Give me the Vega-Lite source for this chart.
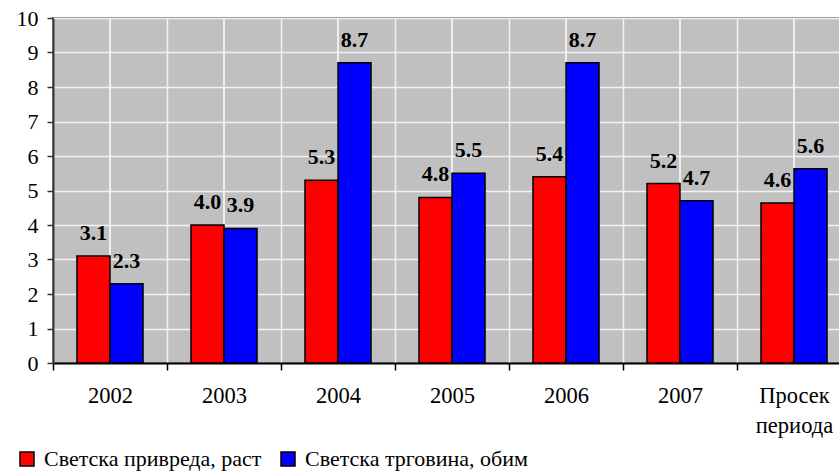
{
  "$schema": "https://vega.github.io/schema/vega-lite/v6.json",
  "width": 798,
  "height": 345,
  "autosize": {"type": "none"},
  "padding": {"left": 53, "top": 18, "right": 0, "bottom": 109},
  "background": "white",
  "config": {
    "view": {"fill": "#c0c0c0", "stroke": "#808080", "strokeWidth": 2},
    "font": "'Liberation Serif', serif",
    "axis": {"labelFont": "'Liberation Serif', serif"},
    "legend": {"labelFont": "'Liberation Serif', serif"},
    "text": {"font": "'Liberation Serif', serif"}
  },
  "data": {
    "values": [
      {"period": "2002", "series": "Светска привреда, раст", "value": 3.1},
      {"period": "2002", "series": "Светска трговина, обим", "value": 2.3},
      {"period": "2003", "series": "Светска привреда, раст", "value": 4.0},
      {"period": "2003", "series": "Светска трговина, обим", "value": 3.9},
      {"period": "2004", "series": "Светска привреда, раст", "value": 5.3},
      {"period": "2004", "series": "Светска трговина, обим", "value": 8.7},
      {"period": "2005", "series": "Светска привреда, раст", "value": 4.8},
      {"period": "2005", "series": "Светска трговина, обим", "value": 5.5},
      {"period": "2006", "series": "Светска привреда, раст", "value": 5.4},
      {"period": "2006", "series": "Светска трговина, обим", "value": 8.7},
      {"period": "2007", "series": "Светска привреда, раст", "value": 5.2},
      {"period": "2007", "series": "Светска трговина, обим", "value": 4.7},
      {"period": "Просек периода", "series": "Светска привреда, раст", "value": 4.64},
      {"period": "Просек периода", "series": "Светска трговина, обим", "value": 5.63}
    ]
  },
  "encoding": {
    "x": {
      "field": "period",
      "type": "nominal",
      "sort": null,
      "scale": {"paddingInner": 0, "paddingOuter": 0},
      "axis": {
        "title": null,
        "labelAngle": 0,
        "tickBand": "extent",
        "grid": true,
        "gridColor": "#f2f2f2",
        "gridWidth": 1.5,
        "labelFontSize": 22.5,
        "labelColor": "black",
        "labelPadding": 14.5,
        "labelBaseline": "top",
        "labelLineHeight": 30,
        "labelOverlap": false,
        "labelExpr": "datum.value == 'Просек периода' ? ['Просек', 'периода'] : datum.value",
        "domainColor": "black",
        "domainWidth": 2,
        "tickColor": "black",
        "tickSize": 7,
        "tickWidth": 1.5
      }
    },
    "y": {
      "field": "value",
      "type": "quantitative",
      "scale": {"domain": [0, 10], "nice": false},
      "axis": {
        "title": null,
        "values": [0, 1, 2, 3, 4, 5, 6, 7, 8, 9, 10],
        "labelOverlap": false,
        "grid": true,
        "gridColor": "#f2f2f2",
        "gridWidth": 1.5,
        "labelFontSize": 22,
        "labelColor": "black",
        "labelPadding": 9,
        "domainColor": "#333333",
        "domainWidth": 2,
        "tickColor": "#333333",
        "tickSize": 6,
        "tickWidth": 1.5
      }
    }
  },
  "layer": [
    {
      "mark": {"type": "rule", "color": "#f2f2f2", "strokeWidth": 1.5},
      "encoding": {"y": {"value": 0}, "y2": {"value": 345}}
    },
    {
      "mark": {"type": "bar", "stroke": "black", "strokeWidth": 1.5},
      "encoding": {
        "xOffset": {
          "field": "series",
          "type": "nominal",
          "scale": {"paddingInner": 0, "paddingOuter": 0.727}
        },
        "color": {
          "field": "series",
          "type": "nominal",
          "scale": {
            "domain": ["Светска привреда, раст", "Светска трговина, обим"],
            "range": ["#ff0000", "#0000ff"]
          },
          "legend": {
            "title": null,
            "orient": "none",
            "legendX": -37,
            "legendY": 430,
            "direction": "horizontal",
            "symbolType": "square",
            "symbolSize": 196,
            "symbolStrokeColor": "black",
            "symbolStrokeWidth": 1.5,
            "labelFontSize": 22,
            "labelColor": "black",
            "labelOffset": 6,
            "columnPadding": 15,
            "labelLimit": 400
          }
        }
      }
    },
    {
      "mark": {"type": "text", "baseline": "alphabetic", "dy": -16, "fontWeight": "bold", "fontSize": 22, "color": "black"},
      "encoding": {
        "xOffset": {"field": "series", "type": "nominal"},
        "text": {"field": "value", "type": "quantitative", "format": ".1f"}
      }
    }
  ]
}
